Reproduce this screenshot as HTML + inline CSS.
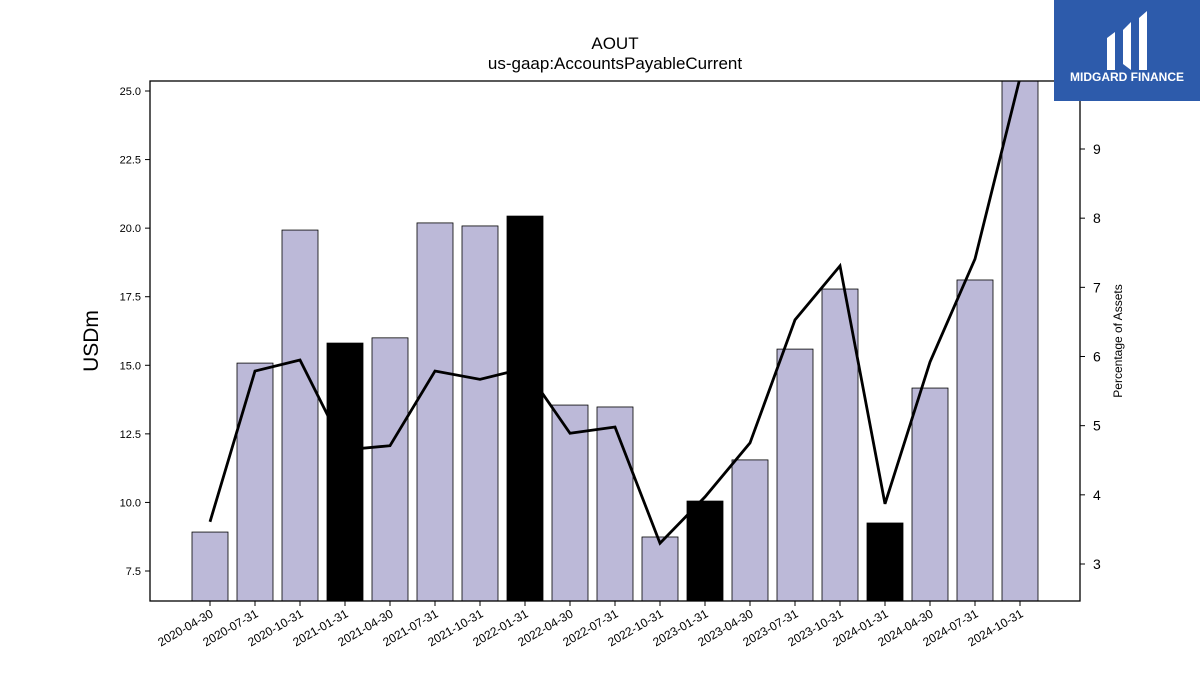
<!DOCTYPE html>
<html><head><meta charset="utf-8"><style>
body{margin:0;background:#fff;width:1200px;height:675px;overflow:hidden;font-family:"Liberation Sans",sans-serif}
</style></head><body>
<svg id="chart" width="1200" height="675" xmlns="http://www.w3.org/2000/svg" font-family="Liberation Sans, sans-serif">
<text x="615" y="49" font-size="17" text-anchor="middle">AOUT</text>
<text x="615" y="69" font-size="17" text-anchor="middle">us-gaap:AccountsPayableCurrent</text>
<g id="bars"></g><g id="line"></g><g id="axes"></g>
<rect x="150" y="81" width="930" height="520" fill="none" stroke="#000" stroke-width="1.3"/>
<text transform="translate(98,341) rotate(-90)" font-size="21" text-anchor="middle">USDm</text>
<text transform="translate(1122,341) rotate(-90)" font-size="12" text-anchor="middle">Percentage of Assets</text>
<g>
<rect x="1054" y="0" width="146" height="101" fill="#2d5bab"/>
<path d="M1107 38 L1115 32 L1115 70 L1107 70 Z M1123 30 L1131 22 L1131 70 L1123 64 Z M1139 18 L1147 11 L1147 70 L1139 70 Z" fill="#fff"/>
<text x="1127" y="81" font-size="12" font-weight="bold" fill="#fff" text-anchor="middle">MIDGARD FINANCE</text>
</g>
</svg>
<script>
const categories=["2020-04-30","2020-07-31","2020-10-31","2021-01-31","2021-04-30","2021-07-31","2021-10-31","2022-01-31","2022-04-30","2022-07-31","2022-10-31","2023-01-31","2023-04-30","2023-07-31","2023-10-31","2024-01-31","2024-04-30","2024-07-31","2024-10-31"];
const usdValues=[8.92,15.08,19.93,15.81,16.0,20.19,20.08,20.44,13.55,13.48,8.74,10.05,11.55,15.59,17.78,9.25,14.17,18.11,25.5];
const highlight=[0,0,0,1,0,0,0,1,0,0,0,1,0,0,0,1,0,0,0];
const pctValues=[3.61,5.79,5.95,4.65,4.71,5.79,5.67,5.83,4.89,4.98,3.30,3.97,4.75,6.53,7.31,3.87,5.92,7.41,10.03];
const leftTicks=[7.5,10.0,12.5,15.0,17.5,20.0,22.5,25.0];
const rightTicks=[3,4,5,6,7,8,9];
const NS="http://www.w3.org/2000/svg";
const X0=150,X1=1080,Y0=81,Y1=601;
function xPos(i){return 210+i*45;}
function yL(v){return 91+(25-v)*480/17.5;}
function yR(v){return 149+(9-v)*415/6;}
function mk(t,a,p){const e=document.createElementNS(NS,t);for(const k in a)e.setAttribute(k,a[k]);p.appendChild(e);return e;}
const bars=document.getElementById('bars'),line=document.getElementById('line'),axes=document.getElementById('axes');
const clip=mk('clipPath',{id:'pc'},bars);mk('rect',{x:X0,y:Y0,width:X1-X0,height:Y1-Y0},clip);
bars.setAttribute('clip-path','url(#pc)');line.setAttribute('clip-path','url(#pc)');
usdValues.forEach((v,i)=>{
const top=yL(v);
const r=mk('rect',{x:xPos(i)-18,y:top,width:36,height:Y1-top,fill:highlight[i]?'#000':'#bcb9d8',stroke:'#000','stroke-width':0.8},bars);


});
const pl=mk('polyline',{points:pctValues.map((v,i)=>xPos(i)+','+yR(v)).join(' '),fill:'none',stroke:'#000','stroke-width':2.8},line);


leftTicks.forEach(v=>{const y=yL(v);
mk('line',{x1:X0-5,x2:X0,y1:y,y2:y,stroke:'#000'},axes);
const t=mk('text',{x:X0-9,y:y+4,'font-size':11,'text-anchor':'end'},axes);t.textContent=v.toFixed(1);

});
rightTicks.forEach(v=>{const y=yR(v);
mk('line',{x1:X1,x2:X1+5,y1:y,y2:y,stroke:'#000'},axes);
const t=mk('text',{x:X1+13,y:y+5,'font-size':14},axes);t.textContent=v;

});
categories.forEach((c,i)=>{const x=xPos(i);
mk('line',{x1:x,x2:x,y1:Y1,y2:Y1+5,stroke:'#000'},axes);
const t=mk('text',{transform:`translate(${x+4},${Y1+15}) rotate(-30)`,'font-size':12,'text-anchor':'end'},axes);t.textContent=c;

});
</script>
</body></html>
